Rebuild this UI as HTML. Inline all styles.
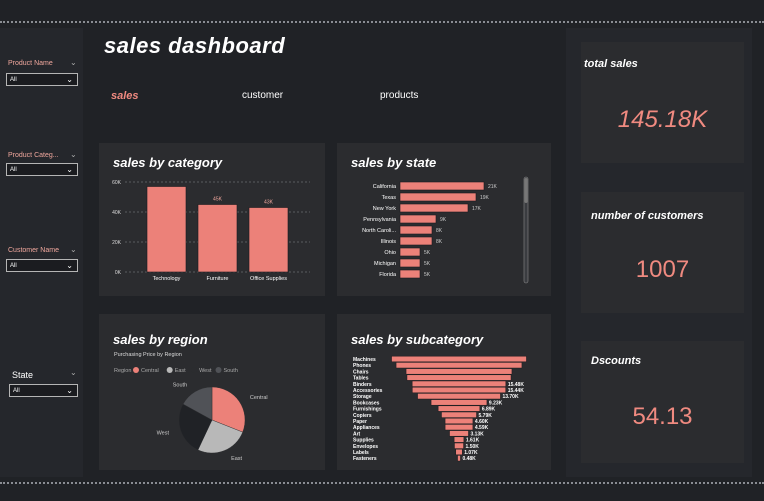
<!DOCTYPE html>
<html><head><meta charset="utf-8">
<style>
*{margin:0;padding:0;box-sizing:border-box}
body{width:764px;height:501px;background:#202226;font-family:"Liberation Sans",sans-serif;position:relative;overflow:hidden;color:#fff}
.abs{position:absolute}
.dash{position:absolute;left:0;width:764px;height:0;border-top:2px dotted #8a8d93}
.card{position:absolute;background:#2b2c2f}
.ct{position:absolute;left:14px;top:12px;font-size:13px;font-weight:bold;font-style:italic;color:#fff}
.slic-l{position:absolute;left:8px;font-size:7px;color:#f0a79d}
.slic-c{position:absolute;left:70px;font-size:8px;color:#aaa}
.box{position:absolute;left:6px;width:72px;height:13px;border:1px solid #b5b5b5;background:#1b1c20;font-size:6px;color:#fff;padding:3px 0 0 3px}
.box span{position:absolute;right:4px;top:1px;font-size:8px}
.kpi{position:absolute;left:581px;width:163px;background:#2b2c2f}
.kt{position:absolute;font-size:11px;font-weight:bold;font-style:italic}
.kv{position:absolute;width:100%;text-align:center;color:#f08a80;font-size:24px}
svg text{font-family:"Liberation Sans",sans-serif}
</style></head><body>
<div class="dash" style="top:21px"></div>
<div class="dash" style="top:482px"></div>

<div class="abs" style="left:0;top:28px;width:83px;height:449px;background:#25272c">
  <div class="slic-l" style="top:32px">Product Name</div><div class="slic-c" style="top:30px">⌄</div>
  <div class="box" style="top:45px">All<span>⌄</span></div>
  <div class="slic-l" style="top:124px">Product Categ...</div><div class="slic-c" style="top:122px">⌄</div>
  <div class="box" style="top:135px">All<span>⌄</span></div>
  <div class="slic-l" style="top:219px">Customer Name</div><div class="slic-c" style="top:217px">⌄</div>
  <div class="box" style="top:231px">All<span>⌄</span></div>
  <div class="slic-l" style="top:342px;left:12px;font-size:9px;color:#fff">State</div><div class="slic-c" style="top:340px">⌄</div>
  <div class="box" style="top:356px;left:9px;width:69px">All<span>⌄</span></div>
</div>

<div class="abs" style="left:104px;top:33px;font-size:22px;font-weight:bold;font-style:italic;letter-spacing:0.5px">sales dashboard</div>
<div class="abs" style="left:111px;top:90px;font-size:11px;font-style:italic;font-weight:bold;color:#f08a80">sales</div>
<div class="abs" style="left:242px;top:90px;font-size:10px">customer</div>
<div class="abs" style="left:380px;top:90px;font-size:10px">products</div>

<div class="card" style="left:99px;top:143px;width:226px;height:153px"><div class="ct">sales by category</div></div>
<div class="card" style="left:337px;top:143px;width:214px;height:153px"><div class="ct">sales by state</div></div>
<div class="card" style="left:99px;top:314px;width:226px;height:156px"><div class="ct" style="top:18px">sales by region</div>
 <div class="abs" style="left:15px;top:38px;font-size:5.5px;color:#ddd">Purchasing Price by Region</div>
</div>
<div class="card" style="left:337px;top:314px;width:214px;height:156px"><div class="ct" style="top:18px">sales by subcategory</div></div>

<div class="abs" style="left:566px;top:28px;width:186px;height:449px;background:#25272c"></div>
<div class="kpi" style="top:42px;height:121px"><div class="kt" style="left:3px;top:16px">total sales</div><div class="kv" style="top:64px;font-style:italic">145.18K</div></div>
<div class="kpi" style="top:192px;height:121px"><div class="kt" style="left:10px;top:18px">number of customers</div><div class="kv" style="top:64px">1007</div></div>
<div class="kpi" style="top:341px;height:122px"><div class="kt" style="left:10px;top:14px">Dscounts</div><div class="kv" style="top:62px">54.13</div></div>

<svg id="chart" class="abs" style="left:0;top:0" width="764" height="501"></svg>

<script>
const catNames=["Technology","Furniture","Office Supplies"];
const catValues=[57,45,43];
const catTicks=[0,20,40,60];
const stateNames=["California","Texas","New York","Pennsylvania","North Caroli...","Illinois","Ohio","Michigan","Florida"];
const stateValues=[21,19,17,9,8,8,5,5,5];
const subNames=["Machines","Phones","Chairs","Tables","Binders","Accessories","Storage","Bookcases","Furnishings","Copiers","Paper","Appliances","Art","Supplies","Envelopes","Labels","Fasteners"];
const subValues=[22.3,20.8,17.5,17.2,15.48,15.44,13.70,9.23,6.89,5.79,4.60,4.59,3.13,1.61,1.50,1.07,0.48];
const regionNames=["Central","East","West","South"];
const regionValues=[31,26,26,17];
const regionColors=["#ec8179","#b8b8b8","#202226","#505257"];

const svg=document.getElementById('chart');
const NS='http://www.w3.org/2000/svg';
function mk(tag,at,txt){const e=document.createElementNS(NS,tag);for(const k in at)e.setAttribute(k,at[k]);if(txt!=null)e.textContent=txt;svg.appendChild(e);return e;}

// category chart
const cy=v=>272-v/60*90;
catTicks.forEach(t=>{
 const g=mk('line',{x1:125,x2:310,y1:cy(t),y2:cy(t),stroke:'#6a6c70','stroke-dasharray':'2,2','stroke-width':0.8});
 
 
 const l=mk('text',{x:121,y:cy(t)+2,'font-size':5,fill:'#ddd','text-anchor':'end'},t+'K');
 
 
});
catNames.forEach((n,i)=>{
 const x=147+i*51;
 const r=mk('rect',{x:x,y:cy(catValues[i]),width:39,height:272-cy(catValues[i]),fill:'#ec8179',stroke:'#1a1b1e','stroke-width':0.6});
 
 
 const t=mk('text',{x:x+19.5,y:280,'font-size':5.5,fill:'#fff','text-anchor':'middle'},n);
 
 
 if(i>0){const v=mk('text',{x:x+19.5,y:cy(catValues[i])-4,'font-size':5,fill:'#f0a79d','text-anchor':'middle'},catValues[i]+'K');
 
 }
});

// state chart
const sx=v=>v*4;
stateNames.forEach((n,i)=>{
 const y=186+i*11;
 const r=mk('rect',{x:400,y:y-4,width:sx(stateValues[i]),height:8,fill:'#ec8179',stroke:'#1a1b1e','stroke-width':0.6});
 
 
 const t=mk('text',{x:396,y:y+2,'font-size':5.5,fill:'#fff','text-anchor':'end'},n);
 
 
 const v=mk('text',{x:404+sx(stateValues[i]),y:y+2,'font-size':5,fill:'#ccc'},stateValues[i]+'K');
 
 
});
const sb=mk('rect',{x:524,y:177,width:4,height:106,rx:2,fill:'#3a3c40',stroke:'#888','stroke-width':0.6});


const sbt=mk('rect',{x:524.5,y:178,width:3,height:25,rx:1.5,fill:'#777'});



// subcategory funnel
const fx=v=>v*6.05, fc=459;
subNames.forEach((n,i)=>{
 const y=359+i*6.2, w=fx(subValues[i]);
 const r=mk('rect',{x:fc-w/2,y:y-2.8,width:w,height:5.6,fill:'#ec8179',stroke:'#1a1b1e','stroke-width':0.5});
 
 
 const t=mk('text',{x:353,y:y+2,'font-size':5,fill:'#fff','font-weight':'bold'},n);
 
 
 if(i>=4){const v=mk('text',{x:fc+w/2+2,y:y+2,'font-size':5,fill:'#fff','font-weight':'bold'},subValues[i].toFixed(2)+'K');
 
 }
});

// region pie
const pcx=212,pcy=420,pr=33;
const total=regionValues.reduce((a,b)=>a+b,0);
let ang=0;
const lg=mk('text',{x:114,y:372,'font-size':5.5,fill:'#aaa'},'Region');


let lx=133;
regionNames.forEach((n,i)=>{
 const a0=ang, a1=ang+regionValues[i]/total*2*Math.PI; ang=a1;
 const p=(a)=>[pcx+pr*Math.sin(a),pcy-pr*Math.cos(a)];
 const [x0,y0]=p(a0),[x1,y1]=p(a1);
 const s=mk('path',{d:`M${pcx},${pcy}L${x0},${y0}A${pr},${pr} 0 ${a1-a0>Math.PI?1:0} 1 ${x1},${y1}Z`,fill:regionColors[i],stroke:'#2b2c2f','stroke-width':0.4});
 
 
 const m=(a0+a1)/2, ex=pcx+(pr+8)*Math.sin(m), ey=pcy-(pr+8)*Math.cos(m);
 const right=Math.sin(m)>=0;
 const l=mk('text',{x:ex+(right?4:-4),y:ey+2,'font-size':5.5,fill:'#ccc','text-anchor':right?'start':'end'},n);
 
 
 const c=mk('circle',{cx:lx+3,cy:370,r:3,fill:i==2?'#2b2c2f':regionColors[i]});
 
 
 const lt=mk('text',{x:lx+8,y:372,'font-size':5.5,fill:'#aaa'},n);
 
 
 lx+=8+n.length*3.1+4;
});
</script>
</body></html>
